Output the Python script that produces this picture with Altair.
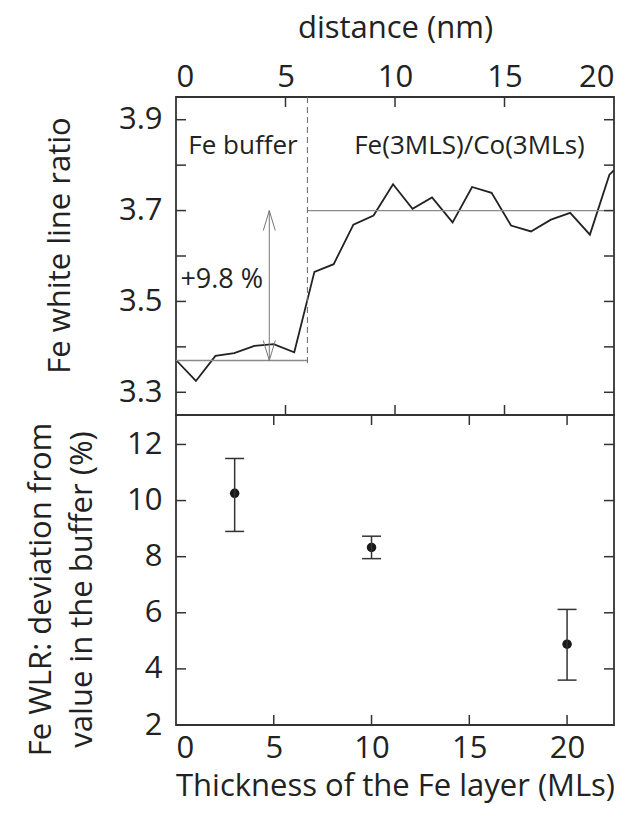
import altair as alt
import pandas as pd

# ---------------- data ----------------
# top panel: Fe white line ratio profile
dist_nm = [0.0, 0.91, 1.80, 2.66, 3.58, 4.46, 5.40, 6.32, 7.20, 8.10, 9.02, 9.91,
           10.80, 11.69, 12.63, 13.52, 14.41, 15.30, 16.21, 17.12, 18.00, 18.90, 19.79, 20.0]
wlr = [3.371, 3.325, 3.380, 3.386, 3.402, 3.406, 3.388, 3.565, 3.582, 3.669, 3.689, 3.758,
       3.704, 3.729, 3.674, 3.752, 3.739, 3.667, 3.654, 3.680, 3.695, 3.647, 3.779, 3.789]

# mean levels (start, end, level)
mean_x0 = [0.0, 6.0]
mean_x1 = [6.0, 20.0]
mean_level = [3.37, 3.70]

interface_x = [6.0]
interface_top = [3.95]
interface_bottom = [3.36]

arrow_x = [4.26]
arrow_lo = [3.37]
arrow_hi = [3.70]

ann_text = ["Fe buffer", "Fe(3MLS)/Co(3MLs)"]
ann_x = [3.06, 13.4]
ann_y = [3.843, 3.843]
pct_text = ["+9.8 %"]
pct_x = [0.2]
pct_y = [3.548]

top_x_ticks = [0, 5, 10, 15, 20]
top_y_labels = [3.3, 3.5, 3.7, 3.9]
top_y_ticks = [3.3, 3.4, 3.5, 3.6, 3.7, 3.8, 3.9]
top_x_inner_ticks = [5, 10, 15]

# bottom panel: deviation vs thickness
thick = [3, 10, 20]
dev = [10.26, 8.33, 4.88]
dev_lo = [8.9, 7.93, 3.6]
dev_hi = [11.5, 8.73, 6.12]

bot_x_ticks = [0, 5, 10, 15, 20]
bot_x_inner_ticks = [5, 10, 15, 20]
bot_y_ticks = [2, 4, 6, 8, 10, 12]

# ---------------- styling ----------------
FONT = "Open Sans"
W = 438
H1 = 318
H2 = 310
TICK = 10
DARK = "#222222"
GRAY = "#8a8a8a"
LBL = 31
TTL = 31

xs_top = alt.Scale(domain=[0, 20], nice=False, zero=False)
ys_top = alt.Scale(domain=[3.25, 3.95], nice=False, zero=False)
xs_bot = alt.Scale(domain=[0, 22.4], nice=False, zero=False)
ys_bot = alt.Scale(domain=[2, 13.05], nice=False, zero=False)

# ---------------- top panel ----------------
line_df = pd.DataFrame({"d": dist_nm, "w": wlr})
mean_df = pd.DataFrame({"x0": mean_x0, "x1": mean_x1, "lvl": mean_level})
iface_df = pd.DataFrame({"x": interface_x, "t": interface_top, "b": interface_bottom})
arrow_df = pd.DataFrame({"x": arrow_x, "lo": arrow_lo, "hi": arrow_hi})
ann_df = pd.DataFrame({"t": ann_text, "x": ann_x, "y": ann_y})
pct_df = pd.DataFrame({"t": pct_text, "x": pct_x, "y": pct_y})
ty_df = pd.DataFrame({"v": top_y_ticks})
tx_df = pd.DataFrame({"v": top_x_inner_ticks})

top_line = alt.Chart(line_df).mark_line(color=DARK, strokeWidth=1.8, clip=True).encode(
    x=alt.X("d:Q", scale=xs_top,
            axis=alt.Axis(orient="top", values=top_x_ticks, title="distance (nm)",
                          ticks=False, tickSize=0, domain=False, grid=False,
                          labelFontSize=LBL, labelPadding=4, labelColor=DARK,
                          titleFontSize=TTL, titleFontWeight="normal", titleColor=DARK,
                          titlePadding=17)),
    y=alt.Y("w:Q", scale=ys_top,
            axis=alt.Axis(values=top_y_labels, title="Fe white line ratio",
                          ticks=False, tickSize=0, domain=False, grid=False,
                          labelFontSize=LBL, labelPadding=14, labelColor=DARK,
                          titleFontSize=TTL, titleFontWeight="normal", titleColor=DARK,
                          titleX=-107, titleY=148, titleBaseline="alphabetic",
                          titleAlign="center", titleAngle=270)),
)

mean_rules = alt.Chart(mean_df).mark_rule(color=GRAY, strokeWidth=1.3).encode(
    x=alt.X("x0:Q", scale=xs_top), x2="x1:Q",
    y=alt.Y("lvl:Q", scale=ys_top),
)

iface = alt.Chart(iface_df).mark_rule(color="#666666", strokeWidth=1, strokeDash=[6, 4]).encode(
    x=alt.X("x:Q", scale=xs_top),
    y=alt.Y("t:Q", scale=ys_top), y2="b:Q",
)

arrow_shaft = alt.Chart(arrow_df).mark_rule(color="#777777", strokeWidth=1).encode(
    x=alt.X("x:Q", scale=xs_top),
    y=alt.Y("lo:Q", scale=ys_top), y2="hi:Q",
)
arrow_up = alt.Chart(arrow_df).mark_point(
    shape="M -0.3 1 L 0 0 L 0.3 1", filled=False, size=1600,
    color="#777777", strokeWidth=1, opacity=1).encode(
    x=alt.X("x:Q", scale=xs_top),
    y=alt.Y("hi:Q", scale=ys_top),
)
arrow_dn = alt.Chart(arrow_df).mark_point(
    shape="M -0.3 -1 L 0 0 L 0.3 -1", filled=False, size=1600,
    color="#777777", strokeWidth=1, opacity=1).encode(
    x=alt.X("x:Q", scale=xs_top),
    y=alt.Y("lo:Q", scale=ys_top),
)

ann = alt.Chart(ann_df).mark_text(font=FONT, fontSize=26, color=DARK, align="center",
                                  baseline="middle").encode(
    x=alt.X("x:Q", scale=xs_top),
    y=alt.Y("y:Q", scale=ys_top), text="t:N",
)
pct = alt.Chart(pct_df).mark_text(font=FONT, fontSize=27, color=DARK, align="left",
                                  baseline="middle").encode(
    x=alt.X("x:Q", scale=xs_top),
    y=alt.Y("y:Q", scale=ys_top), text="t:N",
)

top_ticks_l = alt.Chart(ty_df).mark_rule(color="#333333", strokeWidth=1.5).encode(
    y=alt.Y("v:Q", scale=ys_top), x=alt.value(0), x2=alt.value(TICK))
top_ticks_r = alt.Chart(ty_df).mark_rule(color="#333333", strokeWidth=1.5).encode(
    y=alt.Y("v:Q", scale=ys_top), x=alt.value(W - TICK), x2=alt.value(W))
top_ticks_t = alt.Chart(tx_df).mark_rule(color="#333333", strokeWidth=1.5).encode(
    x=alt.X("v:Q", scale=xs_top), y=alt.value(0), y2=alt.value(TICK))
top_ticks_b = alt.Chart(tx_df).mark_rule(color="#333333", strokeWidth=1.5).encode(
    x=alt.X("v:Q", scale=xs_top), y=alt.value(H1 - TICK), y2=alt.value(H1))

top = alt.layer(
    top_line, mean_rules, iface, arrow_shaft, arrow_up, arrow_dn, ann, pct,
    top_ticks_l, top_ticks_r, top_ticks_t, top_ticks_b,
).properties(width=W, height=H1)

# ---------------- bottom panel ----------------
pts_df = pd.DataFrame({"t": thick, "d": dev, "lo": dev_lo, "hi": dev_hi})
by_df = pd.DataFrame({"v": bot_y_ticks})
bx_df = pd.DataFrame({"v": bot_x_inner_ticks})

bot_pts = alt.Chart(pts_df).mark_circle(color="#1a1a1a", size=90, opacity=1).encode(
    x=alt.X("t:Q", scale=xs_bot,
            axis=alt.Axis(orient="bottom", values=bot_x_ticks,
                          title="Thickness of the Fe layer (MLs)",
                          ticks=False, tickSize=0, domain=False, grid=False,
                          labelFontSize=LBL, labelPadding=8, labelColor=DARK,
                          titleFontSize=TTL, titleFontWeight="normal", titleColor=DARK,
                          titlePadding=8)),
    y=alt.Y("d:Q", scale=ys_bot,
            axis=alt.Axis(values=bot_y_ticks,
                          title=["Fe WLR: deviation from", "value in the buffer (%)"],
                          ticks=False, tickSize=0, domain=False, grid=False,
                          labelFontSize=LBL, labelPadding=14, labelColor=DARK,
                          titleFontSize=31, titleFontWeight="normal", titleColor=DARK,
                          titleX=-126, titleY=174, titleBaseline="alphabetic",
                          titleAlign="center", titleAngle=270, titleLineHeight=41)),
)
bot_err = alt.Chart(pts_df).mark_rule(color="#333333", strokeWidth=1.5).encode(
    x=alt.X("t:Q", scale=xs_bot),
    y=alt.Y("lo:Q", scale=ys_bot), y2="hi:Q",
)
bot_cap_lo = alt.Chart(pts_df).mark_tick(color="#333333", thickness=1.5, size=19,
                                         orient="horizontal", opacity=1).encode(
    x=alt.X("t:Q", scale=xs_bot),
    y=alt.Y("lo:Q", scale=ys_bot),
)
bot_cap_hi = alt.Chart(pts_df).mark_tick(color="#333333", thickness=1.5, size=19,
                                         orient="horizontal", opacity=1).encode(
    x=alt.X("t:Q", scale=xs_bot),
    y=alt.Y("hi:Q", scale=ys_bot),
)
bot_ticks_l = alt.Chart(by_df).mark_rule(color="#333333", strokeWidth=1.5).encode(
    y=alt.Y("v:Q", scale=ys_bot), x=alt.value(0), x2=alt.value(TICK))
bot_ticks_r = alt.Chart(by_df).mark_rule(color="#333333", strokeWidth=1.5).encode(
    y=alt.Y("v:Q", scale=ys_bot), x=alt.value(W - TICK), x2=alt.value(W))
bot_ticks_t = alt.Chart(bx_df).mark_rule(color="#333333", strokeWidth=1.5).encode(
    x=alt.X("v:Q", scale=xs_bot), y=alt.value(0), y2=alt.value(TICK))
bot_ticks_b = alt.Chart(bx_df).mark_rule(color="#333333", strokeWidth=1.5).encode(
    x=alt.X("v:Q", scale=xs_bot), y=alt.value(H2 - TICK), y2=alt.value(H2))

bottom = alt.layer(
    bot_pts, bot_err, bot_cap_lo, bot_cap_hi,
    bot_ticks_l, bot_ticks_r, bot_ticks_t, bot_ticks_b,
).properties(width=W, height=H2)

chart = alt.vconcat(top, bottom, spacing=0, bounds="flush").properties(
    padding={"left": 16, "top": 3, "right": 10, "bottom": 8},
    background="white",
).configure(
    font=FONT,
).configure_view(
    stroke="#333333", strokeWidth=1.8,
)

chart.save("out.html", embed_options={"renderer": "svg", "actions": False})
